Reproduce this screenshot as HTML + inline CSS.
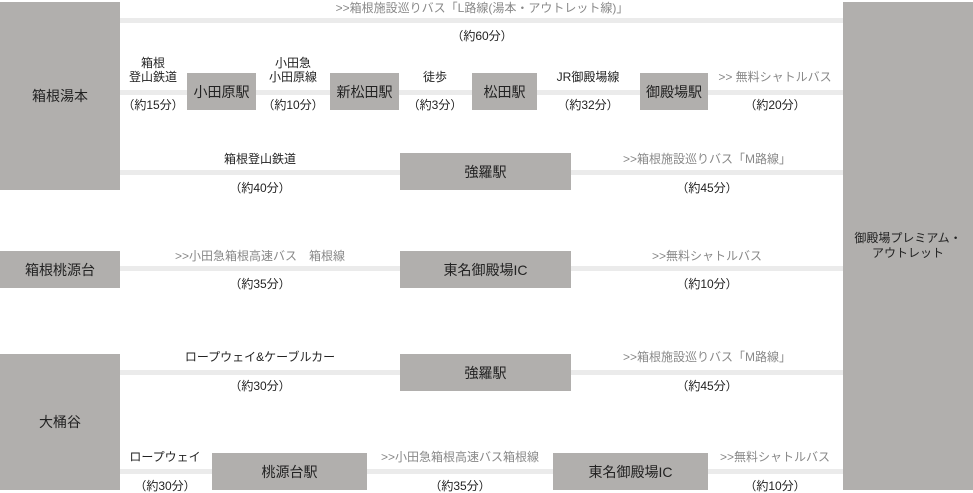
<!DOCTYPE html>
<html><head><meta charset="utf-8"><style>
body{margin:0;width:973px;height:493px;background:#fff;position:relative;overflow:hidden;font-family:"Liberation Sans","Noto Sans CJK JP",sans-serif;}
.b{position:absolute;background:#b1afad;color:#222;font-size:14px;display:flex;align-items:center;justify-content:center;text-align:center;}
.l{position:absolute;background:#ebebeb;height:5px;}
.t{position:absolute;font-size:12px;color:#222;text-align:center;line-height:14px;white-space:nowrap;transform:translateX(-50%);}
.g{color:#888;}
</style></head><body>
<div class="l" style="left:120px;top:18px;width:723px"></div>
<div class="l" style="left:120px;top:90px;width:723px"></div>
<div class="l" style="left:120px;top:170px;width:723px"></div>
<div class="l" style="left:120px;top:266px;width:723px"></div>
<div class="l" style="left:120px;top:370px;width:723px"></div>
<div class="l" style="left:120px;top:469px;width:723px"></div>

<div class="b" style="left:0;top:2px;width:120px;height:188px">箱根湯本</div>
<div class="b" style="left:843px;top:2px;width:130px;height:488px;font-size:12px;line-height:15px">御殿場プレミアム・<br>アウトレット</div>
<div class="b" style="left:187px;top:73px;width:69px;height:37px">小田原駅</div>
<div class="b" style="left:330px;top:73px;width:69px;height:37px">新松田駅</div>
<div class="b" style="left:472px;top:73px;width:65px;height:37px">松田駅</div>
<div class="b" style="left:640px;top:73px;width:68px;height:37px">御殿場駅</div>
<div class="b" style="left:400px;top:153px;width:171px;height:37px">強羅駅</div>
<div class="b" style="left:0;top:251px;width:120px;height:37px">箱根桃源台</div>
<div class="b" style="left:400px;top:251px;width:171px;height:37px">東名御殿場IC</div>
<div class="b" style="left:0;top:354px;width:120px;height:136px">大桶谷</div>
<div class="b" style="left:400px;top:354px;width:171px;height:37px">強羅駅</div>
<div class="b" style="left:212px;top:453px;width:155px;height:37px">桃源台駅</div>
<div class="b" style="left:553px;top:453px;width:155px;height:37px">東名御殿場IC</div>

<div class="t g" style="left:482px;top:1px">&gt;&gt;箱根施設巡りバス「L路線(湯本・アウトレット線)」</div>
<div class="t" style="left:482px;top:29px">（約60分）</div>

<div class="t" style="left:153px;top:56px">箱根<br>登山鉄道</div>
<div class="t" style="left:153px;top:98px">（約15分）</div>
<div class="t" style="left:293px;top:56px">小田急<br>小田原線</div>
<div class="t" style="left:293px;top:98px">（約10分）</div>
<div class="t" style="left:435px;top:70px">徒歩</div>
<div class="t" style="left:435px;top:98px">（約3分）</div>
<div class="t" style="left:588px;top:70px">JR御殿場線</div>
<div class="t" style="left:588px;top:98px">（約32分）</div>
<div class="t g" style="left:775px;top:70px">&gt;&gt; 無料シャトルバス</div>
<div class="t" style="left:775px;top:98px">（約20分）</div>

<div class="t" style="left:260px;top:152px">箱根登山鉄道</div>
<div class="t" style="left:260px;top:181px">（約40分）</div>
<div class="t g" style="left:707px;top:152px">&gt;&gt;箱根施設巡りバス「M路線」</div>
<div class="t" style="left:707px;top:181px">（約45分）</div>

<div class="t g" style="left:260px;top:249px">&gt;&gt;小田急箱根高速バス　箱根線</div>
<div class="t" style="left:260px;top:277px">（約35分）</div>
<div class="t g" style="left:707px;top:249px">&gt;&gt;無料シャトルバス</div>
<div class="t" style="left:707px;top:277px">（約10分）</div>

<div class="t" style="left:260px;top:350px">ロープウェイ&amp;ケーブルカー</div>
<div class="t" style="left:260px;top:379px">（約30分）</div>
<div class="t g" style="left:707px;top:350px">&gt;&gt;箱根施設巡りバス「M路線」</div>
<div class="t" style="left:707px;top:379px">（約45分）</div>

<div class="t" style="left:165px;top:450px">ロープウェイ</div>
<div class="t" style="left:165px;top:479px">（約30分）</div>
<div class="t g" style="left:460px;top:450px">&gt;&gt;小田急箱根高速バス箱根線</div>
<div class="t" style="left:460px;top:479px">（約35分）</div>
<div class="t g" style="left:775px;top:450px">&gt;&gt;無料シャトルバス</div>
<div class="t" style="left:775px;top:479px">（約10分）</div>
</body></html>
